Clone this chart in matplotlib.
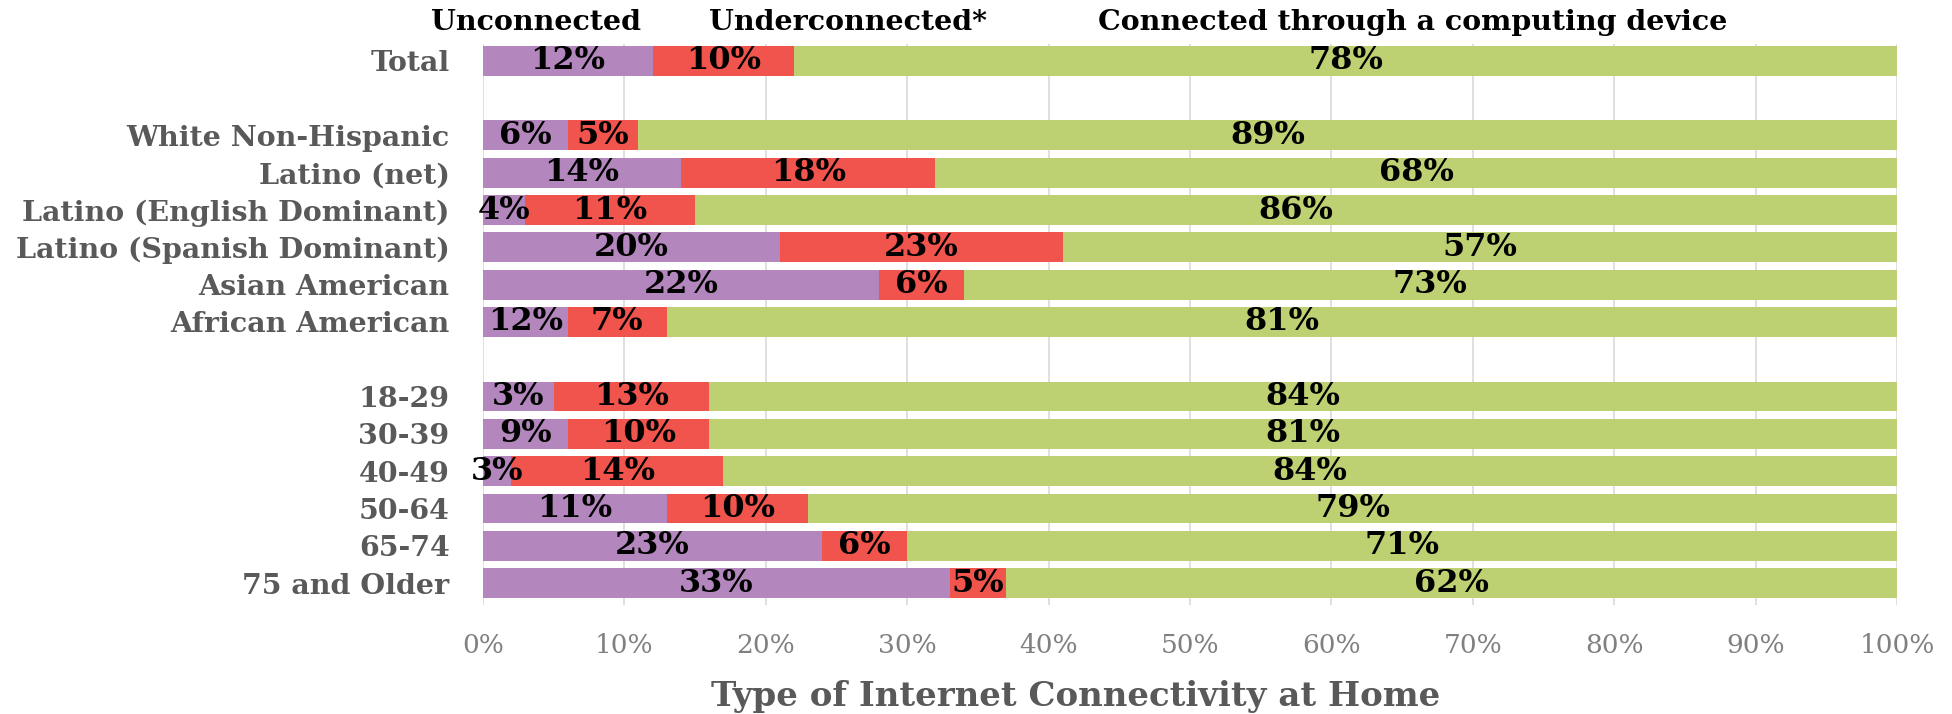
import numpy as np
import matplotlib
matplotlib.use("Agg")
import matplotlib.pyplot as plt

# Rows top to bottom (None = spacer slot)
groups = ["Total", None,
          "White Non-Hispanic", "Latino (net)", "Latino (English Dominant)",
          "Latino (Spanish Dominant)", "Asian American", "African American", None,
          "18-29", "30-39", "40-49", "50-64", "65-74", "75 and Older"]

# bar lengths as drawn in the chart (percent)
unconnected = [12, 6, 14, 3, 21, 28, 6, 5, 6, 2, 13, 24, 33]
underconnected = [10, 5, 18, 12, 20, 6, 7, 11, 10, 15, 10, 6, 4]
connected = [78, 89, 68, 85, 59, 66, 87, 84, 84, 83, 77, 70, 63]

# printed data labels
unconnected_lbl = [12, 6, 14, 4, 20, 22, 12, 3, 9, 3, 11, 23, 33]
underconnected_lbl = [10, 5, 18, 11, 23, 6, 7, 13, 10, 14, 10, 6, 5]
connected_lbl = [78, 89, 68, 86, 57, 73, 81, 84, 81, 84, 79, 71, 62]

series_names = ["Unconnected", "Underconnected*", "Connected through a computing device"]
colors = ["#B387BD", "#F0544C", "#BDD173"]

FONT = "DejaVu Serif"

ypos = [i for i, g in enumerate(groups) if g is not None]
labels = [g for g in groups if g is not None]

fig = plt.figure(figsize=(19.52, 7.14), dpi=100)
ax = fig.add_axes([0.2474, 0.152, 0.7244, 0.7864])

left = np.zeros(len(ypos))
for vals, lbls, col in zip([unconnected, underconnected, connected],
                           [unconnected_lbl, underconnected_lbl, connected_lbl], colors):
    vals = np.array(vals, dtype=float)
    ax.barh(ypos, vals, left=left, height=0.8, color=col, zorder=3)
    for y, l, v, t in zip(ypos, left, vals, lbls):
        ax.text(l + v / 2, y, f"{t}%", ha="center", va="center", fontsize=23,
                fontweight="bold", family=FONT, color="black", zorder=4)
    left += vals

ax.set_xlim(0, 100)
ax.set_ylim(len(groups) - 0.4, -0.45)
ax.set_xticks(np.arange(0, 101, 10))
ax.set_xticklabels([f"{v}%" for v in range(0, 101, 10)], family=FONT, fontsize=19, color="#808080")
ax.set_yticks(ypos)
ax.set_yticklabels(labels, family=FONT, fontsize=20.5, fontweight="bold", color="#595959")
ax.tick_params(axis="both", length=0)
ax.tick_params(axis="y", pad=24)
ax.tick_params(axis="x", pad=20)
ax.grid(axis="x", color="#D9D9D9", linewidth=1.2, zorder=0)
for s in ax.spines.values():
    s.set_visible(False)

# series headers above the bars
header_x = [0.2746, 0.4346, 0.7236]
for name, x in zip(series_names, header_x):
    fig.text(x, 0.968, name, ha="center", va="center", fontsize=20.5,
             fontweight="bold", family=FONT, color="black")

fig.text(0.551, 0.024, "Type of Internet Connectivity at Home", ha="center", va="center",
         fontsize=24.5, fontweight="bold", family=FONT, color="#595959")

fig.savefig("out.png", dpi=100)
